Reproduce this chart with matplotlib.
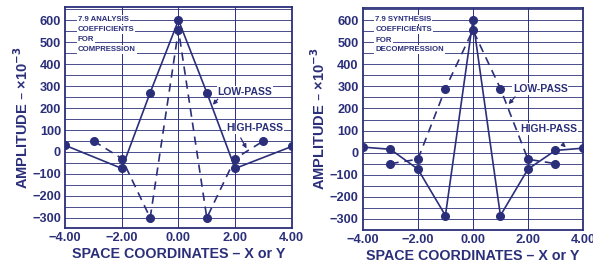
import matplotlib
matplotlib.use("Agg")
import matplotlib.pyplot as plt

# ---- data (amplitude x 10^-3) ----
ana_low_x = [-4, -2, -1, 0, 1, 2, 4]
ana_low_y = [30, -75, 270, 600, 270, -75, 25]
ana_high_x = [-3, -2, -1, 0, 1, 2, 3]
ana_high_y = [50, -30, -300, 555, -300, -30, 50]

syn_low_x = [-3, -2, -1, 0, 1, 2, 3]
syn_low_y = [-50, -30, 290, 555, 290, -30, -50]
syn_high_x = [-4, -3, -2, -1, 0, 1, 2, 3, 4]
syn_high_y = [25, 15, -75, -285, 600, -285, -75, 10, 20]

x_ticks = [-4, -2, 0, 2, 4]
x_tick_labels = ["\u22124.00", "\u22122.00", "0.00", "2.00", "4.00"]
y_ticks = [-300, -200, -100, 0, 100, 200, 300, 400, 500, 600]
y_tick_labels = ["\u2212300", "\u2212200", "\u2212100", "0", "100", "200", "300", "400", "500", "600"]

box_left = ["7.9 ANALYSIS", "COEFFICIENTS", "FOR", "COMPRESSION"]
box_right = ["7.9 SYNTHESIS", "COEFFICIENTS", "FOR", "DECOMPRESSION"]

C = "#2b2f7a"
plt.rcParams["font.family"] = ["Liberation Sans", "DejaVu Sans"]
plt.rcParams["font.weight"] = "bold"

fig = plt.figure(figsize=(5.93, 2.67), dpi=100)
fig.patch.set_facecolor("white")

def setup(ax, ylim, box_lines, low_text_xy, low_arrow, high_text_xy, high_arrow):
    ax.set_xlim(-4, 4)
    ax.set_ylim(*ylim)
    for s in ax.spines.values():
        s.set_color(C)
        s.set_linewidth(1.3)
    ax.set_xticks(x_ticks)
    ax.set_xticklabels(x_tick_labels)
    ax.set_yticks(y_ticks)
    ax.set_yticklabels(y_tick_labels)
    ax.tick_params(colors=C, labelsize=9.2, length=0, pad=3)
    for lab in ax.get_xticklabels() + ax.get_yticklabels():
        lab.set_fontweight("bold")
    # grid
    for yv in range(-350, 651, 50):
        ax.axhline(yv, color=C, lw=0.6, zorder=0)
    for xv in [-2, 0, 2]:
        ax.axvline(xv, color=C, lw=0.7, zorder=0)
    ax.set_xlabel("SPACE COORDINATES \u2013 X or Y", color=C, fontsize=10.3,
                  fontweight="bold", labelpad=2)
    ax.set_ylabel("AMPLITUDE \u2013 \u00d710$^{-3}$", color=C, fontsize=10.5,
                  fontweight="bold", labelpad=1)
    # text box
    ys = [602, 556, 510, 466]
    for t, yv in zip(box_lines, ys):
        ax.text(-3.55, yv, t, color=C, fontsize=5.6, fontweight="bold",
                va="center", ha="left",
                bbox=dict(facecolor="white", edgecolor="none", pad=0.6), zorder=3)
    # labels
    ax.text(low_text_xy[0], low_text_xy[1], "LOW-PASS", color=C, fontsize=7.5,
            fontweight="bold", va="center", ha="center",
            bbox=dict(facecolor="white", edgecolor="none", pad=0.5), zorder=3)
    ax.annotate("", xy=low_arrow[1], xytext=low_arrow[0],
                arrowprops=dict(arrowstyle="-|>", color=C, lw=0.9,
                                mutation_scale=6), zorder=4)
    ax.text(high_text_xy[0], high_text_xy[1], "HIGH-PASS", color=C, fontsize=7.5,
            fontweight="bold", va="center", ha="center",
            bbox=dict(facecolor="white", edgecolor="none", pad=0.5), zorder=3)
    ax.annotate("", xy=high_arrow[1], xytext=high_arrow[0],
                arrowprops=dict(arrowstyle="-|>", color=C, lw=0.9,
                                mutation_scale=6), zorder=4)

ax1 = fig.add_axes([0.110, 0.147, 0.382, 0.826])
ax1.plot(ana_low_x, ana_low_y, "-", color=C, lw=1.2, marker="o", ms=5.5, zorder=5)
ax1.plot(ana_high_x, ana_high_y, "--", color=C, lw=1.2, dashes=(5, 3.5),
         marker="o", ms=5.5, zorder=5)
setup(ax1, (-345, 659), box_left, (2.35, 275), ((1.45, 250), (1.15, 205)),
      (2.7, 107), ((2.15, 75), (2.45, 5)))

ax2 = fig.add_axes([0.612, 0.139, 0.371, 0.831])
ax2.plot(syn_high_x, syn_high_y, "-", color=C, lw=1.2, marker="o", ms=5.5, zorder=5)
ax2.plot(syn_low_x, syn_low_y, "--", color=C, lw=1.2, dashes=(5, 3.5),
         marker="o", ms=5.5, zorder=5)
setup(ax2, (-350, 655), box_right, (2.45, 288), ((1.6, 262), (1.23, 210)),
      (2.75, 106), ((3.2, 45), (3.45, 15)))

fig.savefig("out.png", dpi=100, facecolor="white")
